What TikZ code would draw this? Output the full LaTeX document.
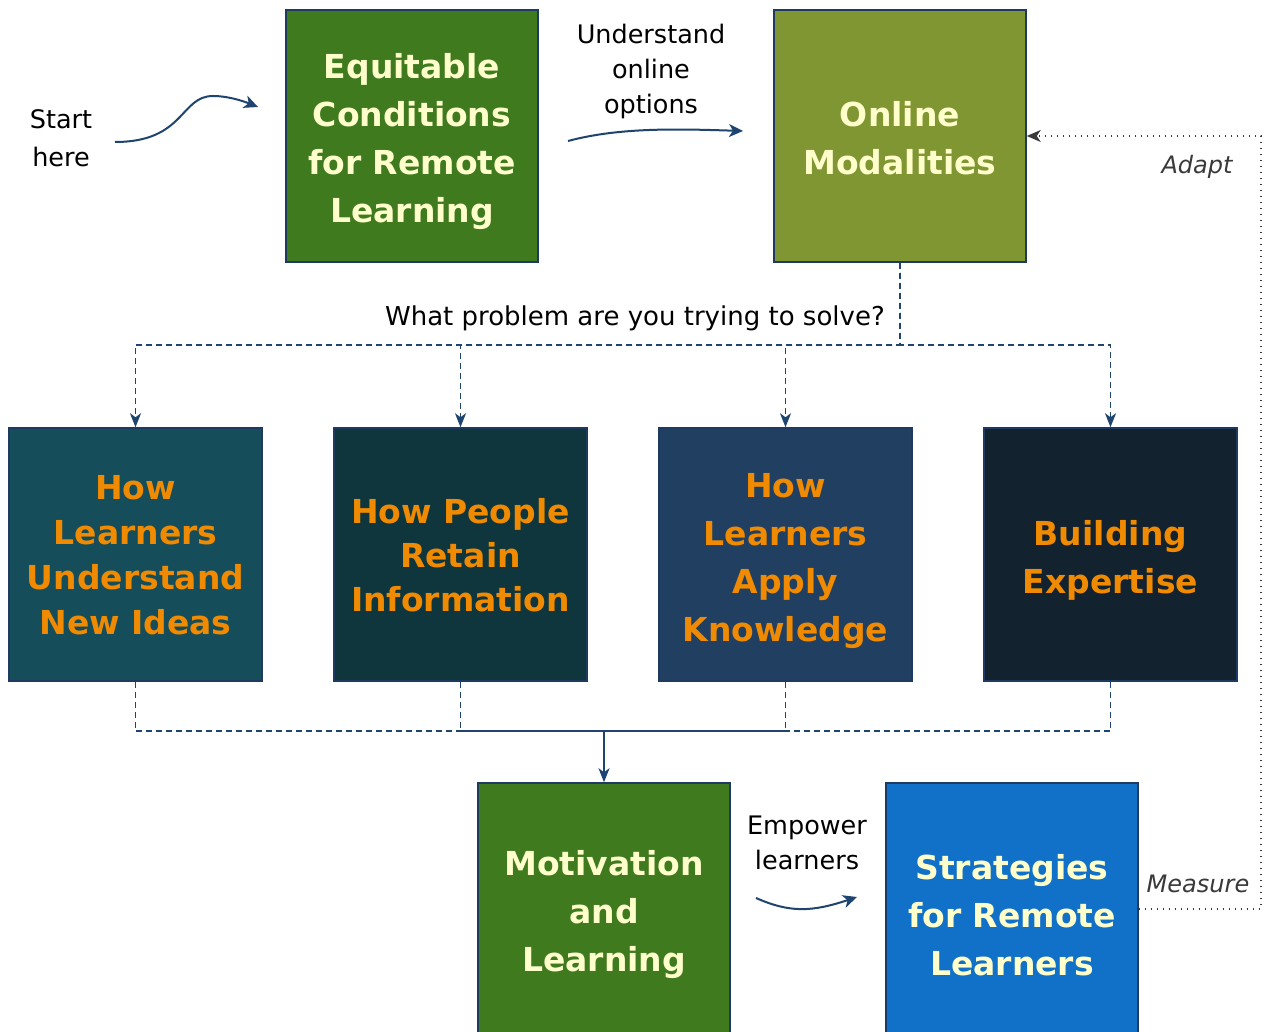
\documentclass[tikz,border=0pt]{standalone}
\usepackage{fontspec}
\setmainfont{DejaVu Sans}
\usetikzlibrary{arrows.meta}

\definecolor{edgeblue}{HTML}{1F3A60}
\definecolor{linkblue}{HTML}{1F4470}
\definecolor{asidegray}{HTML}{3A3A3A}
\definecolor{paleyellow}{HTML}{FFFFCC}
\definecolor{qorange}{HTML}{F08A00}
\definecolor{eqgreen}{HTML}{3F7A1E}
\definecolor{olive}{HTML}{7F9632}
\definecolor{tealdark}{HTML}{154D5A}
\definecolor{pine}{HTML}{0F353D}
\definecolor{slateblue}{HTML}{213F61}
\definecolor{nightblue}{HTML}{13222F}
\definecolor{brightblue}{HTML}{1170C8}

% pushes box text a little lower, as in the drawing
\newcommand{\boxlead}[1][37pt]{\rule{0pt}{#1}}

\tikzset{
  box/.style={draw=edgeblue, line width=1.5pt, minimum width=252pt, minimum height=252pt,
    inner sep=0pt, align=center, font=\bfseries\fontsize{33}{48}\selectfont},
  topbox/.style={box, text=paleyellow},
  qbox/.style={box, minimum width=253pt, minimum height=253pt, text=qorange},
  note/.style={align=center, inner sep=0pt, font=\fontsize{25.5}{35}\selectfont},
  aside/.style={inner sep=0pt, text=asidegray, font=\itshape\fontsize{24}{30}\selectfont},
  curvearrow/.style={draw=linkblue, line width=2pt, -{Stealth[length=14pt,width=13pt,inset=4pt]}},
  busline/.style={draw=linkblue, line width=1.5pt, dash pattern=on 6pt off 4pt},
  busarrow/.style={busline, -{Stealth[length=14pt,width=11pt,inset=4pt]}},
  solidarrow/.style={draw=linkblue, line width=1.5pt, -{Stealth[length=14pt,width=11pt,inset=4pt]}},
  loopline/.style={draw=asidegray, line width=1.5pt, dash pattern=on 1.5pt off 4.5pt,
    -{Stealth[length=14pt,width=12pt,inset=4pt]}}
}

\begin{document}
\begin{tikzpicture}[x=1pt, y=-1pt]
  %%%%% FRAME %%%%%
  \useasboundingbox (0,0) rectangle (1270,1032);
  \clip (0,0) rectangle (1270,1032);
  \fill[white] (0,0) rectangle (1270,1032);

  %%%%% TOP ROW %%%%%
  \node[topbox, fill=eqgreen] (equitable) at (412,136) {\boxlead Equitable\\Conditions\\for Remote\\Learning};
  \node[topbox, fill=olive] (online) at (900,136) {\boxlead[29pt]Online\\Modalities};

  \node[note, font=\fontsize{25.5}{38}\selectfont] (start) at (61,138) {Start\\here};
  \coordinate (startA) at (115,142);
  \coordinate (startB) at (258,107);
  \draw[curvearrow] (startA) .. controls (185,142) and (180,96) .. (213,96)
                             .. controls (228,96) and (243,101) .. (startB);

  \node[note] (understand) at (651,71) {Understand\\online\\options};
  \coordinate (undA) at (568,141);
  \coordinate (undB) at (743,131);
  \draw[curvearrow] (undA) .. controls (620,127) and (680,129) .. (undB);

  %%%%% QUESTION ROW %%%%%
  \node[qbox, fill=tealdark, font=\bfseries\fontsize{33}{45}\selectfont] (understandNew) at (135.5,554.5) {\boxlead[26pt]How\\Learners\\Understand\\New Ideas};
  \node[qbox, fill=pine, font=\bfseries\fontsize{33}{44}\selectfont] (retain) at (460.5,554.5) {\boxlead[26pt]How People\\Retain\\Information};
  \node[qbox, fill=slateblue] (apply) at (785.5,554.5) {\boxlead How\\Learners\\Apply\\Knowledge};
  \node[qbox, fill=nightblue] (expertise) at (1110.5,554.5) {\boxlead Building\\Expertise};

  \node[note, anchor=east, font=\fontsize{26}{35}\selectfont] (question) at (885,318) {What problem are you trying to solve?};
  \coordinate (busTop) at (0,345);
  \coordinate (busBottom) at (0,731);

  \foreach \q in {understandNew, retain, apply, expertise}
    \draw[busarrow] (online.south) |- (\q.north |- busTop) -- (\q.north);

  \foreach \q in {understandNew, retain, apply, expertise}
    \draw[busline] (\q.south) |- (604,731);

  %%%%% BOTTOM ROW %%%%%
  \node[topbox, fill=eqgreen] (motivation) at (604,909) {\boxlead Motivation\\and\\Learning};
  \node[topbox, fill=brightblue] (strategies) at (1012,909) {\boxlead Strategies\\for Remote\\Learners};

  \draw[solidarrow] (motivation.north |- busBottom) -- (motivation.north);

  \node[note] (empower) at (807,843) {Empower\\learners};
  \coordinate (empA) at (756,898);
  \coordinate (empB) at (857,897);
  \draw[curvearrow] (empA) .. controls (790,913) and (812,912) .. (empB);

  %%%%% FEEDBACK LOOP %%%%%
  \coordinate (loopCorner) at (1261,520);
  \draw[loopline] (strategies.east) -| (loopCorner) |- (online.east);
  \node[aside] (measure) at (1198,884) {Measure};
  \node[aside] (adapt) at (1197,167) {Adapt};
\end{tikzpicture}
\end{document}
